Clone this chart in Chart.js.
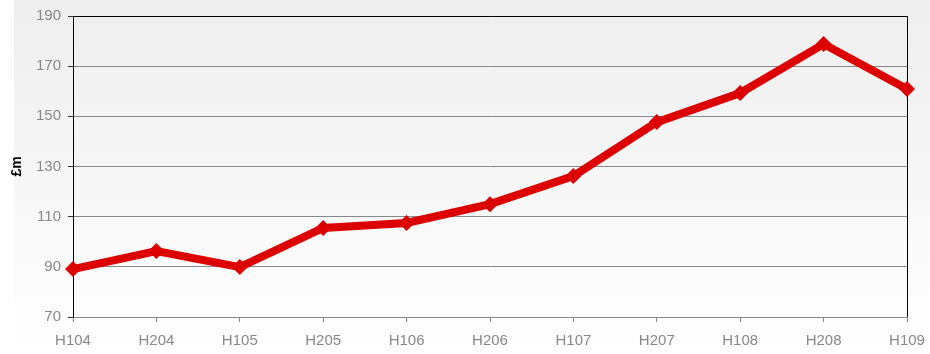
<!DOCTYPE html>
<html>
<head>
<meta charset="utf-8">
<script src="https://cdn.jsdelivr.net/npm/chart.js@4"></script>
<style>
  html, body { margin: 0; padding: 0; background: #ffffff; }
  #chart { display: block; }
</style>
</head>
<body>
<canvas id="chart" width="930" height="354"></canvas>
<script>
// half-year periods and values (£m)
const periods = ['H104', 'H204', 'H105', 'H205', 'H106', 'H206', 'H107', 'H207', 'H108', 'H208', 'H109'];
const values = [89.1, 96.3, 89.9, 105.5, 107.5, 115, 126.2, 147.7, 159.3, 178.8, 160.9];
const yTicks = [70, 90, 110, 130, 150, 170, 190];

const gray = '#888888';

// soft grey-to-white panel behind everything
const panelBackground = {
    id: 'panelBackground',
    beforeDraw(chart) {
        const ctx = chart.ctx;
        const g = ctx.createLinearGradient(0, 0, 0, chart.height);
        g.addColorStop(0, '#eeeeee');
        g.addColorStop(1, '#ffffff');
        ctx.save();
        ctx.fillStyle = g;
        ctx.fillRect(14, 0, chart.width - 14, chart.height);
        ctx.restore();
    }
};

// black frame on the top and right edges of the plot
const plotFrame = {
    id: 'plotFrame',
    beforeDatasetsDraw(chart) {
        const { left, top, right, bottom } = chart.chartArea;
        const ctx = chart.ctx;
        ctx.save();
        ctx.strokeStyle = '#000000';
        ctx.lineWidth = 1;
        ctx.beginPath();
        ctx.moveTo(left, top + 0.5);
        ctx.lineTo(right + 0.5, top + 0.5);
        ctx.lineTo(right + 0.5, bottom);
        ctx.stroke();
        ctx.restore();
    }
};

new Chart(document.getElementById('chart').getContext('2d'), {
    type: 'line',
    data: {
        labels: periods,
        datasets: [{
            data: values,
            borderColor: '#dd0000',
            backgroundColor: '#dd0000',
            borderWidth: 8,
            pointStyle: 'rectRot',
            pointRadius: 8,
            pointHoverRadius: 8,
            pointBorderWidth: 0,
            tension: 0,
            clip: false
        }]
    },
    options: {
        responsive: false,
        animation: false,
        layout: { padding: { top: 6, right: 23, left: 0, bottom: 0 } },
        plugins: {
            legend: { display: false },
            tooltip: { enabled: false }
        },
        scales: {
            x: {
                offset: false,
                grid: {
                    drawOnChartArea: false,
                    color: gray,
                    tickLength: 5
                },
                border: { color: gray },
                ticks: {
                    color: gray,
                    padding: 10,
                    maxRotation: 0,
                    autoSkip: false,
                    font: { family: 'Liberation Sans', size: 15 }
                },
                afterFit(scale) {
                    scale.height = 37;
                    scale.paddingLeft = 0;
                    scale.paddingRight = 0;
                }
            },
            y: {
                min: 70,
                max: 190,
                afterBuildTicks(scale) { scale.ticks = yTicks.map(v => ({ value: v })); },
                grid: {
                    color: gray,
                    tickLength: 5,
                    tickColor: '#333333'
                },
                border: { color: '#000000' },
                ticks: {
                    color: gray,
                    padding: 7,
                    font: { family: 'Liberation Sans', size: 15 }
                },
                title: {
                    display: true,
                    text: '£m',
                    color: '#000000',
                    padding: { top: 9, bottom: 0 },
                    font: { family: 'Liberation Sans', size: 14, weight: 'bold' }
                },
                afterFit(scale) { scale.width = 73; }
            }
        }
    },
    plugins: [panelBackground, plotFrame]
});
</script>
</body>
</html>
